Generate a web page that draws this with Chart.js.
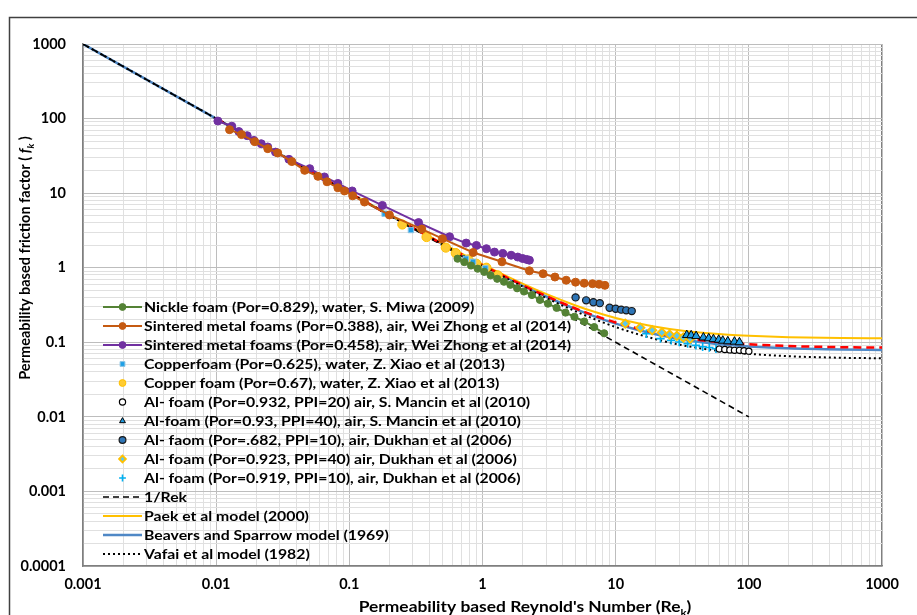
<!DOCTYPE html>
<html>
<head>
<meta charset="utf-8">
<title>Friction factor vs Reynolds number</title>
<script src="https://cdn.jsdelivr.net/npm/chart.js@4.4.1/dist/chart.umd.min.js"></script>
<style>
  html, body { margin: 0; padding: 0; background: #fff; }
  #wrap { position: relative; width: 917px; height: 615px; overflow: hidden; }
</style>
</head>
<body>
<div id="wrap"><canvas id="grafico" width="917" height="615"></canvas></div>
<script>
// tick labels (log axes, one per decade)
const xTickLabels = ['0.001', '0.01', '0.1', '1', '10', '100', '1000'];
const yTickLabels = ['0.0001', '0.001', '0.01', '0.1', '1', '10', '100', '1000'];

// Nickle foam (Por=0.829), water
const nickleRe = [0.65, 0.73, 0.82, 0.92, 1.03, 1.15, 1.29, 1.45, 1.62, 1.82, 2.05, 2.35, 2.7, 3.1, 3.6, 4.2, 4.9, 5.8, 6.9, 8.2];
const nickleF  = [1.32, 1.19, 1.07, 0.97, 0.88, 0.79, 0.71, 0.65, 0.59, 0.53, 0.48, 0.43, 0.37, 0.33, 0.29, 0.25, 0.22, 0.19, 0.16, 0.132];

// Sintered metal foams (Por=0.388), air
const sint388Re = [0.0126, 0.0155, 0.0195, 0.0244, 0.029, 0.037, 0.0462, 0.0581, 0.068, 0.082, 0.092, 0.106, 0.13, 0.2, 0.35, 0.5, 0.85, 1.4, 2.25, 2.85, 3.5, 4.25, 5.0, 5.8, 6.7, 7.5, 8.3];
const sint388F  = [71, 61, 49, 39.5, 34.6, 26.5, 20.2, 16.8, 14.2, 11.8, 10.7, 9.2, 7.6, 5.1, 3.3, 2.45, 1.6, 1.2, 0.91, 0.83, 0.75, 0.68, 0.64, 0.62, 0.61, 0.6, 0.58];

// Sintered metal foams (Por=0.458), air
const sint458Re = [0.0103, 0.0131, 0.0148, 0.0171, 0.0192, 0.0218, 0.0244, 0.0279, 0.0352, 0.0504, 0.065, 0.082, 0.105, 0.177, 0.331, 0.566, 0.754, 0.9, 1.07, 1.23, 1.42, 1.64, 1.84, 2.0, 2.15, 2.25];
const sint458F  = [92.7, 79, 67, 59, 51, 46, 41.6, 35.5, 28.4, 21.3, 16.5, 13.5, 10.7, 6.85, 4.03, 2.6, 2.14, 1.99, 1.8, 1.62, 1.55, 1.47, 1.39, 1.33, 1.29, 1.26];

// Copperfoam (Por=0.625), water
const cu625Re = [0.184, 0.29, 0.75, 0.85, 1.05];
const cu625F  = [5.3, 3.2, 1.32, 1.2, 0.98];

// Copper foam (Por=0.67), water
const cu67Re = [0.25, 0.38, 0.53, 0.63, 0.78, 0.9, 1.07, 1.3];
const cu67F  = [3.8, 2.58, 1.86, 1.57, 1.29, 1.13, 1.0, 0.79];

// Al- foam (Por=0.932, PPI=20), Mancin
const al932Re = [60, 66, 72, 78, 85, 92, 100];
const al932F  = [0.081, 0.08, 0.079, 0.078, 0.078, 0.077, 0.076];

// Al-foam (Por=0.93, PPI=40), Mancin
const al93Re = [34.2, 36.9, 40.2, 45.6, 50, 54.2, 59.4, 63.7, 69.5, 78, 85];
const al93F  = [0.125, 0.124, 0.121, 0.116, 0.113, 0.11, 0.108, 0.105, 0.103, 0.102, 0.1];

// Al- faom (Por=.682, PPI=10), Dukhan
const al682Re = [5.0, 6.0, 6.8, 7.6, 9.0, 10, 11, 12, 13.2];
const al682F  = [0.40, 0.365, 0.345, 0.335, 0.29, 0.282, 0.274, 0.268, 0.262];

// Al- foam (Por=0.923, PPI=40), Dukhan
const al923Re = [11.8, 15.3, 18.8, 22.2, 25.4, 28.8, 32.2, 36.3];
const al923F  = [0.178, 0.157, 0.145, 0.135, 0.127, 0.122, 0.116, 0.112];

// Al- foam (Por=0.919, PPI=10), Dukhan
const al919Re = [17, 21.7, 26.1, 30, 34.7, 40, 45, 50.5, 56.7];
const al919F  = [0.13, 0.112, 0.106, 0.101, 0.096, 0.091, 0.087, 0.085, 0.082];

// 1/Rek
const invRe = [0.001, 0.01, 0.1, 1, 10, 100];
const invF  = [1000, 100, 10, 1, 0.1, 0.01];

// model curves
const modelRe    = [0.001, 0.01, 0.1, 0.3, 1, 2, 3, 5, 7, 10, 15, 20, 30, 50, 70, 100, 200, 500, 1000];
const beaversF   = [1000, 100.1, 10.08, 3.41, 1.08, 0.578, 0.411, 0.278, 0.221, 0.178, 0.145, 0.128, 0.111, 0.098, 0.092, 0.088, 0.083, 0.080, 0.079];
const vafaiF     = [1000, 100.06, 10.06, 3.39, 1.06, 0.56, 0.393, 0.26, 0.203, 0.16, 0.127, 0.11, 0.093, 0.08, 0.074, 0.07, 0.065, 0.062, 0.061];
const paekRe     = [0.01, 0.1, 0.3, 1, 2, 3, 5, 7, 10, 15, 20, 30, 50, 70, 100, 200, 500, 1000];
const paekF      = [100.1, 10.11, 3.45, 1.11, 0.612, 0.445, 0.312, 0.255, 0.212, 0.179, 0.162, 0.145, 0.132, 0.126, 0.122, 0.117, 0.114, 0.113];
const presenteF  = [100.1, 10.08, 3.42, 1.08, 0.584, 0.417, 0.284, 0.227, 0.184, 0.151, 0.134, 0.117, 0.104, 0.098, 0.094, 0.089, 0.086, 0.085];

const FONT = 'Lato, "Open Sans", "DejaVu Sans", sans-serif';
const ESTIRAR = 1.17; // the original picture is stretched sideways

function pares(xs, ys) {
    return xs.map((x, i) => ({ x: x, y: ys[i] }));
}

function esDecada(v) {
    const l = Math.log10(v);
    return Math.abs(l - Math.round(l)) < 1e-6;
}

// decade values + minor 2..9 ticks for the grid
function ticksLog(etiquetas) {
    const out = [];
    etiquetas.forEach((t, i) => {
        const base = parseFloat(t);
        out.push(base);
        if (i < etiquetas.length - 1) {
            for (let k = 2; k <= 9; k++) out.push(+(base * k).toPrecision(6));
        }
    });
    return out;
}

function serieMarcas(label, xs, ys, estilo) {
    return Object.assign({
        label: label,
        data: pares(xs, ys),
        showLine: false,
        borderWidth: 0,
        pointBorderWidth: 1,
        order: 1
    }, estilo);
}

function serieLinea(label, xs, ys, estilo) {
    return Object.assign({
        label: label,
        data: pares(xs, ys),
        showLine: true,
        pointRadius: 0,
        pointHoverRadius: 0,
        fill: false,
        cubicInterpolationMode: 'monotone'
    }, estilo);
}

const datasets = [
    serieMarcas('Nickle foam (Por=0.829), water, S. Miwa (2009)', nickleRe, nickleF, {
        showLine: true, borderColor: '#548235', borderWidth: 2, backgroundColor: '#548235',
        pointBackgroundColor: '#548235', pointBorderColor: '#548235', pointRadius: 3.6, pointStyle: 'circle'
    }),
    serieMarcas('Sintered metal foams (Por=0.388), air, Wei Zhong et al (2014)', sint388Re, sint388F, {
        showLine: true, borderColor: '#C55A11', borderWidth: 2, backgroundColor: '#C55A11',
        pointBackgroundColor: '#C55A11', pointBorderColor: '#C55A11', pointRadius: 4, pointStyle: 'circle'
    }),
    serieMarcas('Sintered metal foams (Por=0.458), air, Wei Zhong et al (2014)', sint458Re, sint458F, {
        showLine: true, borderColor: '#7030A0', borderWidth: 2, backgroundColor: '#7030A0',
        pointBackgroundColor: '#7030A0', pointBorderColor: '#7030A0', pointRadius: 4, pointStyle: 'circle'
    }),
    serieMarcas('Copperfoam (Por=0.625), water, Z. Xiao et al (2013)', cu625Re, cu625F, {
        pointBackgroundColor: '#1FA0E6', pointBorderColor: '#8CC4E4', pointRadius: 3.8, pointStyle: 'rect'
    }),
    serieMarcas('Copper foam (Por=0.67), water, Z. Xiao et al (2013)', cu67Re, cu67F, {
        pointBackgroundColor: '#FFCC33', pointBorderColor: '#FFC000', pointRadius: 4.6, pointStyle: 'circle'
    }),
    serieMarcas('Al- foam (Por=0.932, PPI=20) air, S. Mancin et al (2010)', al932Re, al932F, {
        pointBackgroundColor: '#FFFFFF', pointBorderColor: '#000000', pointBorderWidth: 1.2, pointRadius: 3.1, pointStyle: 'circle'
    }),
    serieMarcas('Al-foam (Por=0.93, PPI=40), air, S. Mancin et al (2010)', al93Re, al93F, {
        pointBackgroundColor: '#1E9BE0', pointBorderColor: '#000000', pointBorderWidth: 1, pointRadius: 5, pointStyle: 'triangle'
    }),
    serieMarcas('Al- faom (Por=.682, PPI=10), air, Dukhan et al (2006)', al682Re, al682F, {
        pointBackgroundColor: '#2E75B6', pointBorderColor: '#1A1A1A', pointBorderWidth: 1.2, pointRadius: 3.6, pointStyle: 'circle'
    }),
    serieMarcas('Al- foam (Por=0.923, PPI=40) air, Dukhan et al (2006)', al923Re, al923F, {
        pointBackgroundColor: '#5BC8F0', pointBorderColor: '#FFC000', pointBorderWidth: 1.8, pointRadius: 4.2, pointStyle: 'rectRot'
    }),
    serieMarcas('Al- foam (Por=0.919, PPI=10), air, Dukhan et al (2006)', al919Re, al919F, {
        pointBackgroundColor: '#00B0F0', pointBorderColor: '#00B0F0', pointBorderWidth: 1.6, pointRadius: 4.2, pointStyle: 'cross'
    }),
    serieLinea('1/Rek', invRe, invF, {
        borderColor: '#000000', borderWidth: 1.6, borderDash: [6, 4], order: 4, cubicInterpolationMode: 'default', tension: 0
    }),
    serieLinea('Paek et al model (2000)', paekRe, paekF, {
        borderColor: '#FFC000', borderWidth: 2, order: 5
    }),
    serieLinea('Beavers and Sparrow model (1969)', modelRe, beaversF, {
        borderColor: '#4F88C6', borderWidth: 2.5, order: 6
    }),
    serieLinea('Vafai et al model (1982)', modelRe, vafaiF, {
        borderColor: '#000000', borderWidth: 2, borderDash: [2, 3], order: 2
    }),
    // red dashed curve has no legend entry in the original
    serieLinea('', paekRe, presenteF, {
        borderColor: '#FF0000', borderWidth: 2.5, borderDash: [8, 5], order: 3, sinLeyenda: true
    })
];

// legend drawn inside the plot, Excel style (line + marker)
const leyendaExcel = {
    id: 'leyendaExcel',
    afterDatasetsDraw(chart) {
        const ctx = chart.ctx;
        const x0 = 103, x1 = 142, y0 = 307, paso = 19;
        let fila = 0;
        ctx.save();
        chart.data.datasets.forEach(ds => {
            if (ds.sinLeyenda) return;
            const y = y0 + fila * paso;
            const xm = (x0 + x1) / 2;
            if (ds.showLine) {
                ctx.beginPath();
                ctx.setLineDash(ds.borderDash || []);
                ctx.strokeStyle = ds.borderColor;
                ctx.lineWidth = ds.borderWidth;
                ctx.moveTo(x0, y);
                ctx.lineTo(x1, y);
                ctx.stroke();
                ctx.setLineDash([]);
            }
            if (ds.pointRadius > 0 && Chart.helpers && Chart.helpers.drawPoint) {
                ctx.fillStyle = ds.pointBackgroundColor;
                ctx.strokeStyle = ds.pointBorderColor;
                ctx.lineWidth = ds.pointBorderWidth;
                Chart.helpers.drawPoint(ctx, {
                    pointStyle: ds.pointStyle, radius: Math.min(ds.pointRadius, 3.4),
                    borderWidth: ds.pointBorderWidth, rotation: 0
                }, xm, y);
            }
            ctx.save();
            ctx.translate(x1 + 2, y + 1);
            ctx.scale(ESTIRAR, 1);
            ctx.fillStyle = '#000';
            ctx.font = 'bold 13.5px ' + FONT;
            ctx.textAlign = 'left';
            ctx.textBaseline = 'middle';
            ctx.fillText(ds.label, 0, 0);
            ctx.restore();
            fila++;
        });
        ctx.restore();
    }
};

// axis titles with subscripts + outer frame
const titulosEjes = {
    id: 'titulosEjes',
    beforeDraw(chart) {
        const ctx = chart.ctx;
        ctx.save();
        ctx.strokeStyle = '#404040';
        ctx.lineWidth = 1.5;
        ctx.strokeRect(9.5, 17.5, 1000, 1000);
        ctx.restore();
    },
    afterDraw(chart) {
        const ctx = chart.ctx;
        const normal = 'bold 14.5px ' + FONT;
        const chica = 'bold 9.5px ' + FONT;
        const cursiva = 'italic bold 14.5px ' + FONT;

        // x title (stretched like the original)
        ctx.save();
        ctx.fillStyle = '#000';
        ctx.textBaseline = 'alphabetic';
        let partes = [
            { t: "Permeability based Reynold's Number (Re", f: normal, dy: 0 },
            { t: 'k', f: chica, dy: 4 },
            { t: ')', f: normal, dy: 0 }
        ];
        let ancho = 0;
        partes.forEach(p => { ctx.font = p.f; ancho += ctx.measureText(p.t).width; });
        ctx.translate(525 - ancho * 1.2 / 2, 612);
        ctx.scale(1.2, 1);
        let x = 0;
        partes.forEach(p => {
            ctx.font = p.f;
            ctx.fillText(p.t, x, p.dy);
            x += ctx.measureText(p.t).width;
        });
        ctx.restore();

        // y title (rotated)
        ctx.save();
        ctx.translate(30, 258);
        ctx.rotate(-Math.PI / 2);
        ctx.fillStyle = '#000';
        ctx.textBaseline = 'alphabetic';
        partes = [
            { t: 'Permeability based friction factor ( ', f: normal, dy: 0 },
            { t: 'f', f: cursiva, dy: 0 },
            { t: 'k', f: 'italic ' + chica, dy: 4 },
            { t: ' )', f: normal, dy: 0 }
        ];
        ancho = 0;
        partes.forEach(p => { ctx.font = p.f; ancho += ctx.measureText(p.t).width; });
        x = -ancho / 2;
        partes.forEach(p => {
            ctx.font = p.f;
            ctx.fillText(p.t, x, p.dy);
            x += ctx.measureText(p.t).width;
        });
        ctx.restore();
    }
};

function colorRejilla(ctx) {
    if (!ctx.tick) return '#e0e0e0';
    return esDecada(ctx.tick.value) ? '#bdbdbd' : '#e0e0e0';
}

const xValores = ticksLog(xTickLabels);
const yValores = ticksLog(yTickLabels);

new Chart(document.getElementById('grafico'), {
    type: 'scatter',
    data: { datasets: datasets },
    options: {
        responsive: false,
        animation: false,
        events: [],
        layout: { padding: { left: 0, top: 44, right: 35, bottom: 0 } },
        plugins: {
            legend: { display: false },
            tooltip: { enabled: false }
        },
        scales: {
            x: {
                type: 'logarithmic',
                min: 0.001,
                max: 1000,
                afterBuildTicks: s => { s.ticks = xValores.map(v => ({ value: v })); },
                afterFit: s => { s.height = 49; s.paddingLeft = 0; s.paddingRight = 0; },
                grid: {
                    color: c => (c.tick && c.tick.value === 1000) ? '#808080' : colorRejilla(c),
                    lineWidth: c => (c.tick && c.tick.value === 1000) ? 1.5 : 1,
                    drawTicks: false
                },
                border: { color: '#7f7f7f', width: 1.5 },
                ticks: {
                    autoSkip: false,
                    maxRotation: 0,
                    padding: 10,
                    color: '#000',
                    font: { family: FONT, size: 14.5, weight: 'bold' },
                    callback: v => {
                        const i = xTickLabels.findIndex(t => Math.abs(parseFloat(t) - v) < v * 1e-6);
                        return i >= 0 ? xTickLabels[i] : '';
                    }
                }
            },
            y: {
                type: 'logarithmic',
                min: 0.0001,
                max: 1000,
                afterBuildTicks: s => { s.ticks = yValores.map(v => ({ value: v })); },
                afterFit: s => { s.width = 83; s.paddingTop = 0; s.paddingBottom = 0; },
                grid: { color: colorRejilla, drawTicks: false },
                border: { color: '#7f7f7f', width: 1.5 },
                ticks: {
                    autoSkip: false,
                    padding: 17,
                    color: '#000',
                    font: { family: FONT, size: 14.5, weight: 'bold' },
                    callback: v => {
                        const i = yTickLabels.findIndex(t => Math.abs(parseFloat(t) - v) < v * 1e-6);
                        return i >= 0 ? yTickLabels[i] : '';
                    }
                }
            }
        }
    },
    plugins: [leyendaExcel, titulosEjes]
});
</script>
</body>
</html>
